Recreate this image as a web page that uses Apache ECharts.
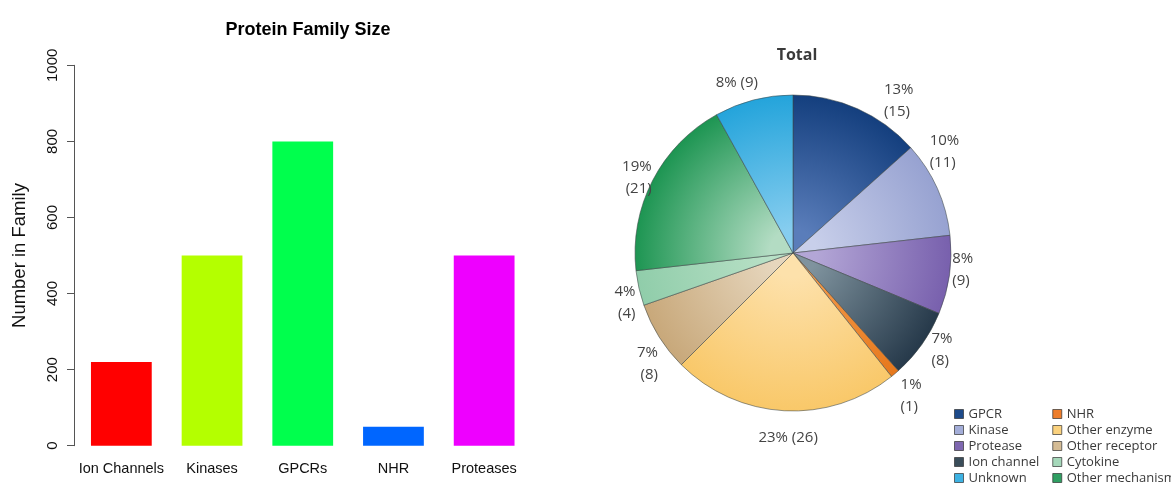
<!DOCTYPE html>
<html>
<head>
<meta charset="utf-8">
<title>Protein Family Size</title>
<script src="https://cdn.jsdelivr.net/npm/echarts@6/dist/echarts.min.js"></script>
<style>
  html, body { margin: 0; padding: 0; background: #ffffff; }
  #chart { width: 1171px; height: 483px; }
</style>
</head>
<body>
<div id="chart"></div>
<script>
// Bar chart: size of each protein family
const barCategories = ['Ion Channels', 'Kinases', 'GPCRs', 'NHR', 'Proteases'];
const barValues = [220, 500, 800, 50, 500];
const barColors = ['#ff0000', '#b4ff00', '#00ff4d', '#0066ff', '#ee00ff'];
const yTicks = [0, 200, 400, 600, 800, 1000];

// Pie chart: drug targets by family (counts)
const pieNames = ['GPCR', 'Kinase', 'Protease', 'Ion channel', 'NHR',
  'Other enzyme', 'Other receptor', 'Cytokine', 'Other mechanism', 'Unknown'];
const pieCounts = [15, 11, 9, 8, 1, 26, 8, 4, 21, 9];
// inner (centre) and outer (rim) shades of each slice
const pieInner = ['#5a7dba', '#c8cfea', '#b3a6d6', '#7f939e', '#f29a4c',
  '#fde1ab', '#e6d6bd', '#b8e0c6', '#b3dcc3', '#86cdef'];
const pieOuter = ['#143f7e', '#97a2d1', '#7860ad', '#26394a', '#e6781c',
  '#f9c869', '#c8a87a', '#90cdaa', '#1d9552', '#24a4db'];
const legendColors = ['#1d4a8a', '#a3add8', '#7e67b0', '#3a4d5a', '#ee7d2a',
  '#fbd27e', '#d5bc95', '#a5d8ba', '#2f9f62', '#3db2e3'];
const legendOrder = ['GPCR', 'Kinase', 'Protease', 'Ion channel', 'Unknown',
  'NHR', 'Other enzyme', 'Other receptor', 'Cytokine', 'Other mechanism'];
const singleLineLabels = ['Other enzyme', 'Unknown'];

const pieCenter = [793, 253];
const pieRadius = 158;
// fine placement of the slice labels around the rim, [dx, dy] in px
const labelNudge = {
  'GPCR': [14, 8], 'Kinase': [-29, -29], 'Protease': [-20, -8], 'Ion channel': [-10, -5],
  'NHR': [-11, 8], 'Other enzyme': [10, 9], 'Other receptor': [19, 17], 'Cytokine': [19, 11],
  'Other mechanism': [20, 6], 'Unknown': [14, 0]
};

const chart = echarts.init(document.getElementById('chart'), null, { renderer: 'canvas' });

const pieData = pieNames.map((name, i) => ({
  name: name,
  value: pieCounts[i],
  itemStyle: {
    color: {
      type: 'radial', x: pieCenter[0], y: pieCenter[1], r: pieRadius, global: true,
      colorStops: [
        { offset: 0, color: pieInner[i] },
        { offset: 0.15, color: pieInner[i] },
        { offset: 1, color: pieOuter[i] }
      ]
    }
  }
}));

const option = {
  animation: false,
  backgroundColor: '#ffffff',
  title: [
    {
      text: 'Protein Family Size',
      left: 303, top: 16, textAlign: 'center',
      textStyle: { fontFamily: 'Liberation Sans', fontWeight: 'bold', fontSize: 18, color: '#000' }
    },
    {
      text: 'Total',
      left: 792, top: 42, textAlign: 'center',
      textStyle: { fontFamily: 'Open Sans', fontWeight: 'bold', fontSize: 16, color: '#3a3a3a' }
    }
  ],
  legend: {
    orient: 'vertical',
    left: 954, top: 407, height: 84,
    itemWidth: 9, itemHeight: 9, itemGap: 2,
    icon: 'rect',
    padding: 0,
    textStyle: { fontFamily: 'Open Sans', fontSize: 13, color: '#3a3a3a', lineHeight: 14, padding: [0, 11, 0, 0] },
    data: legendOrder.map(name => ({
      name: name,
      itemStyle: {
        color: legendColors[pieNames.indexOf(name)],
        borderColor: 'rgba(50,50,50,0.7)', borderWidth: 1
      }
    }))
  },
  grid: { left: 76, top: 65.3, width: 453.5, height: 380.4 },
  xAxis: {
    type: 'category',
    data: barCategories,
    axisLine: { show: false },
    axisTick: { show: false },
    axisLabel: { interval: 0, fontFamily: 'Liberation Sans', fontSize: 14.5, color: '#111', margin: 16 }
  },
  yAxis: {
    type: 'value',
    min: yTicks[0], max: yTicks[yTicks.length - 1], interval: 200,
    offset: 2,
    name: 'Number in Family',
    nameLocation: 'middle', nameRotate: 90, nameGap: 45,
    nameTextStyle: { fontFamily: 'Liberation Sans', fontSize: 18.5, color: '#111' },
    axisLine: { show: true, lineStyle: { color: '#555', width: 1 } },
    axisTick: { show: true, length: 7, lineStyle: { color: '#555' } },
    axisLabel: {
      rotate: 90, fontFamily: 'Liberation Sans', fontSize: 15, color: '#111', margin: 14,
      formatter: v => String(v)
    },
    splitLine: { show: false }
  },
  series: [
    {
      type: 'bar',
      data: barValues.map((v, i) => ({ value: v, itemStyle: { color: barColors[i] } })),
      barCategoryGap: '33%'
    },
    {
      type: 'pie',
      center: pieCenter,
      radius: pieRadius,
      startAngle: 90,
      clockwise: true,
      percentPrecision: 0,
      avoidLabelOverlap: false,
      data: pieData,
      itemStyle: { borderColor: 'rgba(60,70,70,0.55)', borderWidth: 1 },
      emphasis: { disabled: true },
      label: {
        position: 'outside',
        fontFamily: 'Open Sans', fontSize: 15, color: '#444', lineHeight: 22,
        formatter: p => singleLineLabels.includes(p.name)
          ? p.percent + '% (' + p.value + ')'
          : p.percent + '%\n(' + p.value + ')'
      },
      labelLine: { show: false, length: 18, length2: 0 },
      labelLayout: p => {
        const name = pieNames[p.dataIndex];
        const n = labelNudge[name] || [0, 0];
        const out = { dx: n[0], dy: n[1] };
        if (name === 'Other enzyme') out.align = 'center';
        return out;
      }
    }
  ]
};

chart.setOption(option);
</script>
</body>
</html>
